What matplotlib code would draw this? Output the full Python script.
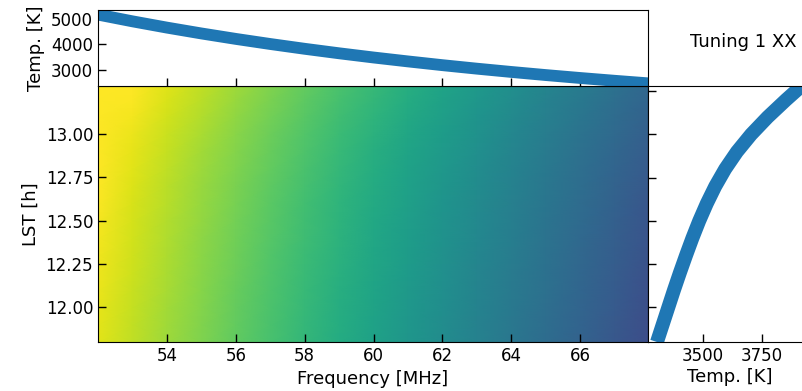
import numpy as np
import matplotlib.pyplot as plt
from matplotlib.colors import LogNorm

# spectrum (K vs MHz)
freq = [52, 53, 54, 55, 56, 57, 58, 59, 60, 61, 62, 63, 64, 65, 66, 67, 68]
spec_temp = [5170, 4906, 4660, 4431, 4217, 4017, 3829, 3653, 3488,
             3334, 3187, 3050, 2921, 2799, 2684, 2575, 2472]

# LST drift (K vs h)
lst = [11.8, 11.9, 12.0, 12.1, 12.2, 12.3, 12.4, 12.5, 12.6, 12.7,
       12.8, 12.9, 13.0, 13.1, 13.2, 13.3]
lst_temp = [3305, 3329, 3353, 3377, 3402, 3428, 3455, 3484, 3516, 3552,
            3594, 3644, 3704, 3774, 3852, 3934]

label = 'Tuning 1 XX'

W, H = 803, 391
fig = plt.figure(figsize=(W / 100, H / 100), dpi=100)


def box(x0, y0, x1, y1):
    return [x0 / W, 1 - y1 / H, (x1 - x0) / W, (y1 - y0) / H]


ax_img = fig.add_axes(box(98, 86, 648, 342))
ax_top = fig.add_axes(box(98, 10, 648, 86), sharex=ax_img)
ax_rgt = fig.add_axes(box(648, 86, 850, 342))

# waterfall: spectrum scaled by a damped LST drift, log colour scale
f = np.array(freq, dtype=float)
t = np.array(lst, dtype=float)
spec = np.array(spec_temp, dtype=float)
drift = np.array(lst_temp, dtype=float)
wf = np.outer((drift / drift[-1]) ** 0.6, spec)
top = wf.max()
ax_img.pcolormesh(f, t, wf, cmap='viridis', shading='gouraud',
                  norm=LogNorm(vmin=top * np.exp(-1.08), vmax=top * np.exp(-0.06)))
ax_img.set_xlim(52.0, 67.97)
ax_img.set_ylim(11.80, 13.277)
ax_img.set_xticks([54, 56, 58, 60, 62, 64, 66])
lst_ticks = [12.0, 12.25, 12.5, 12.75, 13.0]
ax_img.set_yticks(lst_ticks)
ax_img.set_yticklabels(['%.2f' % v for v in lst_ticks])
ax_img.set_xlabel('Frequency [MHz]', fontsize=13)
ax_img.set_ylabel('LST [h]', fontsize=13)

ax_top.plot(f, spec, color='#1f77b4', lw=8.5, solid_capstyle='butt')
ax_top.set_ylim(2370, 5350)
ax_top.set_yticks([3000, 4000, 5000])
ax_top.set_ylabel('Temp. [K]', fontsize=13)
ax_top.tick_params(axis='x', labelbottom=False)

ax_rgt.plot(drift, t, color='#1f77b4', lw=10, solid_capstyle='butt',
            solid_joinstyle='round')
ax_rgt.set_xlim(3267, 4123)
ax_rgt.set_ylim(11.80, 13.28)
ax_rgt.set_xticks([3500, 3750])
ax_rgt.set_yticks([12.0, 12.25, 12.5, 12.75, 13.0, 13.25])
ax_rgt.tick_params(axis='y', labelleft=False)
ax_rgt.set_xlabel('Temp. [K]', fontsize=13)
ax_rgt.xaxis.set_label_coords((730 - 648) / (850 - 648), -0.1)
ax_rgt.spines['right'].set_visible(False)

for ax in (ax_img, ax_top, ax_rgt):
    ax.tick_params(direction='in', length=6, width=1, labelsize=12)

fig.text(743 / W, 1 - 42 / H, label, ha='center', va='center', fontsize=13)

fig.savefig('out.png', dpi=100)
